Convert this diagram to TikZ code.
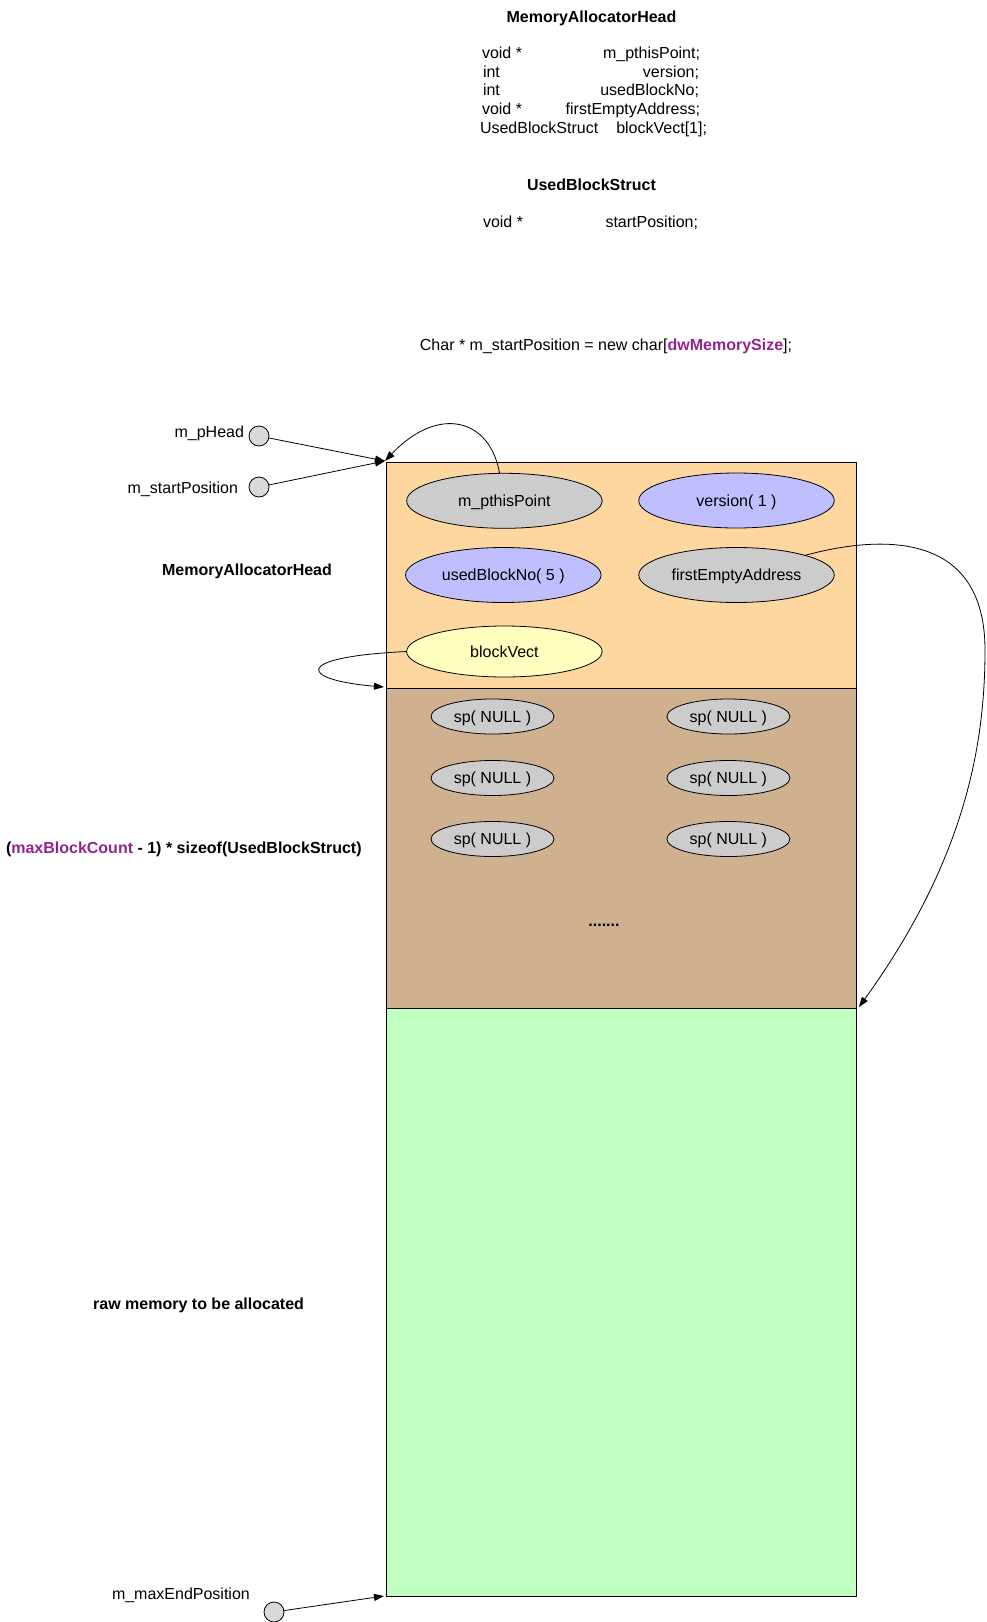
\documentclass[tikz,border=0pt]{standalone}
\usepackage{fontspec}
\setmainfont{Liberation Sans}
\usetikzlibrary{arrows.meta,shapes.geometric}
\definecolor{headfill}{HTML}{FDD6A0}
\definecolor{blockfill}{HTML}{CFB08F}
\definecolor{rawfill}{HTML}{C0FFC0}
\definecolor{lav}{HTML}{BFBFFF}
\definecolor{gry}{HTML}{CCCCCC}
\definecolor{ylw}{HTML}{FFFFC0}
\definecolor{circ}{HTML}{D9D9D9}
\definecolor{purp}{HTML}{93238F}
\begin{document}
\begin{tikzpicture}[x=1pt,y=-1pt,
  every node/.style={inner sep=0pt, outer sep=0pt},
  txt/.style={font=\fontsize{16}{19}\selectfont, text height=11.5pt, text depth=0pt},
  btxt/.style={font=\fontsize{16}{19}\selectfont\bfseries, text height=11.5pt, text depth=0pt},
  ell/.style={ellipse, draw, line width=0.8pt, txt},
  bigell/.style={ell, minimum width=195.5pt, minimum height=55pt},
  spell/.style={ell, minimum width=123pt, minimum height=35pt, fill=gry},
  section/.style={rectangle, draw, line width=0.8pt, anchor=north west, minimum width=470pt},
  ptr/.style={circle, draw, line width=0.8pt, fill=circ, minimum size=20pt},
  arr/.style={line width=0.8pt, -{Triangle[length=10pt,width=7pt]}}
]
\useasboundingbox (0,0) rectangle (986,1622);

% --- struct definitions at top
\node[btxt] (t1) at (591.5,16.5) {MemoryAllocatorHead};
\node[txt, anchor=west] (l1a) at (482,52.8) {void *};
\node[txt, anchor=east] (l1b) at (700,52.8) {m\_pthisPoint;};
\node[txt, anchor=west] (l2a) at (483,71.4) {int};
\node[txt, anchor=east] (l2b) at (699,71.4) {version;};
\node[txt, anchor=west] (l3a) at (483,90) {int};
\node[txt, anchor=east] (l3b) at (699,90) {usedBlockNo;};
\node[txt, anchor=west] (l4a) at (482,108.6) {void *};
\node[txt, anchor=east] (l4b) at (700,108.6) {firstEmptyAddress;};
\node[txt, anchor=west] (l5a) at (480,127.3) {UsedBlockStruct};
\node[txt, anchor=east] (l5b) at (707,127.3) {blockVect[1];};

\node[btxt] (t2) at (591.5,185) {UsedBlockStruct};
\node[txt, anchor=west] (u1a) at (483,222) {void *};
\node[txt, anchor=east] (u1b) at (698,222) {startPosition;};

\node[txt] (alloc) at (606,344.5) {Char * m\_startPosition = new char[\textcolor{purp}{\bfseries dwMemorySize}];};

% --- memory sections
\node[section, fill=headfill, minimum height=226pt] (head) at (386,462) {};
\node[section, fill=blockfill, minimum height=320pt] (blocks) at (386,688) {};
\node[section, fill=rawfill, minimum height=588pt] (raw) at (386,1008) {};

% --- head fields
\node[bigell, fill=gry] (pthis) at (504.4,500.8) {m\_pthisPoint};
\node[bigell, fill=lav] (ver) at (736.5,500.5) {version( 1 )};
\node[bigell, fill=lav] (used) at (503.3,575) {usedBlockNo( 5 )};
\node[bigell, fill=gry] (fe) at (736.5,575) {firstEmptyAddress};
\node[bigell, fill=ylw, minimum height=51pt] (bv) at (504.4,651.5) {blockVect};

% --- block vector entries
\node[spell] (sp1) at (492.5,716.5) {sp( NULL )};
\node[spell] (sp2) at (728.4,716.5) {sp( NULL )};
\node[spell] (sp3) at (492.5,778) {sp( NULL )};
\node[spell] (sp4) at (728.4,778) {sp( NULL )};
\node[spell] (sp5) at (492.5,839) {sp( NULL )};
\node[spell] (sp6) at (728.4,839) {sp( NULL )};
\node[btxt, anchor=base] (dots) at (604,926) {.......};

% --- side labels
\node[txt, anchor=east] (lph) at (244,431.5) {m\_pHead};
\node[ptr] (ph) at (259,436) {};
\node[txt, anchor=east] (lsp) at (238,487.3) {m\_startPosition};
\node[ptr] (sp) at (259,487) {};
\node[btxt] (lhead) at (247,570) {MemoryAllocatorHead};
\node[btxt, anchor=west] (lblocks) at (6,848) {(\textcolor{purp}{maxBlockCount} - 1) * sizeof(UsedBlockStruct)};
\node[btxt] (lraw) at (198.6,1303.6) {raw memory to be allocated};
\node[txt, anchor=west] (lme) at (112,1594) {m\_maxEndPosition};
\node[ptr] (me) at (274,1612) {};

% --- arrow targets
\coordinate (tipA) at (385,461);
\coordinate (tipB) at (384,687);
\coordinate (tipC) at (859,1007);
\coordinate (tipD) at (384,1596);

% --- connectors
\draw[arr] (ph) -- (tipA);
\draw[arr] (sp) -- (tipA);
\draw[arr] (pthis.100) .. controls (490,418) and (438,405) .. (tipA);
\draw[arr] (bv.west) .. controls (290,657) and (300,680) .. (tipB);
\draw[arr] (fe.16) .. controls (880,535) and (985,530) .. (985,650)
           .. controls (985,745) and (965,860) .. (tipC);
\draw[arr] (me) -- (tipD);
\end{tikzpicture}
\end{document}
